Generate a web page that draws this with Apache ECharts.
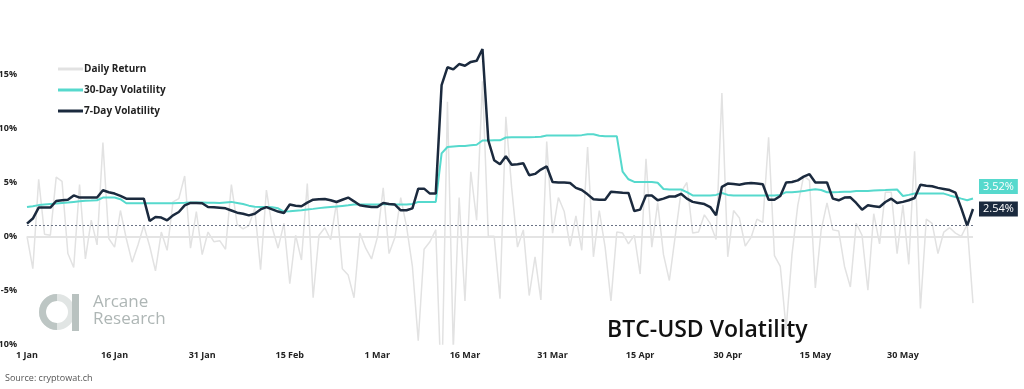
<!DOCTYPE html>
<html><head><meta charset="utf-8">
<script src="https://cdn.jsdelivr.net/npm/echarts@6/dist/echarts.min.js"></script>
<style>html,body{margin:0;padding:0;background:#fff}#c{width:1024px;height:389px}</style>
</head><body><div id="c"></div>
<script>
// Daily dates: 1 Jan 2020 .. 11 Jun 2020
const startDate = '2020-01-01';
const dayCount = 163;
const monthNames = ['Jan','Feb','Mar','Apr','May','Jun','Jul','Aug','Sep','Oct','Nov','Dec'];
const yTicks = [-10, -5, 0, 5, 10, 15];

const dailyReturn = [0,-3.0,5.3,0.2,0.1,5.5,5.1,-1.6,-2.9,4.8,-2.1,1.5,-0.8,8.7,-0.2,-1.0,2.4,-0.2,-2.4,-0.8,
1.0,-0.9,-3.2,0.4,-1.3,3.2,3.5,5.6,-1.1,2.3,-1.7,0.4,-0.5,-0.4,-1.2,4.8,1.1,0.7,1.0,2.6,
-3.1,4.3,0.8,-1.1,1.2,-4.4,0.1,-2.2,4.9,-5.7,0.1,0.8,-0.3,3.1,-3.0,-3.6,-5.7,0.3,-1.1,-2.1,
-0.1,4.5,-1.6,-0.1,3.6,0.9,-2.8,-9.7,-1.2,-0.5,0.6,-15,12.5,-10.5,3.6,-6.0,6.0,1.5,14.4,0,
0,-5.8,11.1,4.5,-1.0,0.6,-5.5,-1.9,-5.9,8.8,0.3,3.6,2.3,-0.9,1.9,-1.3,8.3,-1.9,2.4,-1.0,
-6.0,0.4,0.3,-0.7,0.1,-3.5,7.2,-1.0,3.1,-1.7,-4.1,0,4.1,5.0,0.3,0.4,2.0,1.2,-0.3,13.3,
-1.9,2.4,1.7,-0.9,-0.1,1.6,1.3,9.2,-1.8,-2.8,-8.6,-1.7,2.9,5.6,5.2,-4.8,0.6,3.1,0.6,0.5,
-2.8,-4.7,1.2,0.1,-5.0,2.1,-0.7,4.1,4.1,-1.6,2.9,-2.6,7.9,-6.7,1.6,1.2,-1.6,0.4,0.8,0.3,
0,1.1,-6.2];

const vol30 = [2.72,2.8,2.9,2.95,3.0,3.05,3.1,3.15,3.2,3.25,3.3,3.32,3.35,3.6,3.6,3.6,3.45,3.07,3.07,3.07,
3.07,3.07,3.07,3.07,3.07,3.08,3.1,3.12,3.15,3.15,3.15,3.13,3.12,3.1,3.15,3.2,3.1,3.0,2.85,2.75,
2.72,2.72,2.7,2.6,2.3,2.32,2.38,2.42,2.5,2.55,2.62,2.68,2.72,2.76,2.82,2.88,2.95,2.96,2.96,2.96,
2.96,2.97,2.97,2.96,2.95,2.96,3.0,3.2,3.2,3.2,3.2,7.7,8.3,8.35,8.38,8.4,8.45,8.5,8.9,8.9,
8.92,8.92,9.18,9.2,9.2,9.2,9.2,9.22,9.25,9.37,9.37,9.37,9.37,9.37,9.37,9.4,9.49,9.49,9.35,9.3,
9.3,9.3,6.0,5.3,5.05,5.05,5.05,5.05,4.98,4.4,4.35,4.35,4.35,4.1,3.8,3.8,3.8,3.8,3.85,4.03,
3.85,3.8,3.8,3.8,3.8,3.8,3.8,3.8,3.8,3.85,4.1,4.1,4.15,4.2,4.3,4.37,4.3,4.1,4.1,4.12,
4.15,4.15,4.2,4.2,4.22,4.25,4.28,4.3,4.33,4.35,3.75,3.85,3.97,3.97,3.97,3.97,3.97,3.97,3.8,3.66,
3.5,3.35,3.52];

const vol7 = [1.18,1.65,2.67,2.67,2.67,3.28,3.35,3.4,3.8,3.6,3.6,3.6,3.6,4.28,4.1,3.97,3.75,3.5,3.5,3.5,
3.5,1.43,1.8,1.74,1.49,1.95,2.26,2.88,3.1,3.1,3.07,2.72,2.7,2.65,2.6,2.4,2.2,2.1,1.95,2.1,
2.5,2.72,2.5,2.3,2.17,2.95,2.85,2.79,3.13,3.4,3.45,3.47,3.35,3.19,3.4,3.6,3.25,2.88,2.8,2.72,
2.72,3.1,3.0,2.95,2.42,2.42,2.6,4.43,4.43,3.97,3.97,14.05,15.7,15.5,16.0,15.85,16.2,16.3,17.4,8.9,
7.07,6.7,7.44,6.65,6.7,6.78,5.67,5.8,6.2,6.5,5.05,5.0,5.0,4.96,4.5,4.3,3.9,3.45,3.4,3.4,
4.15,4.1,4.05,4.03,2.35,2.48,3.8,3.8,3.35,3.5,3.7,3.7,3.95,3.5,3.2,3.1,3.0,2.72,1.95,4.6,
4.9,4.85,4.8,4.9,4.96,4.9,4.84,3.4,3.4,3.75,5.0,5.05,5.2,5.55,5.77,5.0,5.0,5.0,3.5,3.35,
3.6,3.62,3.1,2.48,2.88,2.8,2.72,3.19,3.5,3.1,3.2,3.35,3.56,4.8,4.7,4.65,4.5,4.4,4.3,4.06,
2.6,1.0,2.54];

const categories = [];
(function(){
  const d0 = new Date(startDate + 'T00:00:00Z');
  for (let i = 0; i < dayCount; i++) {
    const d = new Date(d0.getTime() + i * 86400000);
    categories.push(d.getUTCDate() + ' ' + monthNames[d.getUTCMonth()]);
  }
})();

const TEAL = '#56d9cd';
const NAVY = '#1b2a3e';
const GRAY = '#e2e2e2';
const FONT = '"Open Sans", "Noto Sans", sans-serif';

const chart = echarts.init(document.getElementById('c'), null, {renderer: 'canvas'});
chart.setOption({
  backgroundColor: '#ffffff',
  animation: false,
  textStyle: {fontFamily: FONT},
  grid: {left: 27, right: 51, top: 21, bottom: 45, containLabel: false, outerBoundsMode: 'none'},
  legend: {
    orient: 'vertical', left: 53, top: 57, icon: 'rect', itemWidth: 25, itemHeight: 3, itemGap: 7,
    textStyle: {fontFamily: FONT, fontSize: 10, fontWeight: 'bold', color: '#222', padding: [0,0,0,-4], lineHeight: 14},
    data: ['Daily Return', '30-Day Volatility', '7-Day Volatility']
  },
  xAxis: {
    type: 'category', data: categories, boundaryGap: false,
    axisLine: {show: false, onZero: false}, axisTick: {show: false},
    axisLabel: {interval: 14, fontFamily: FONT, fontSize: 9, fontWeight: 'bold', color: '#222', margin: 7},
    splitLine: {show: false}
  },
  yAxis: {
    type: 'value', min: -10, max: 20, interval: 5,
    axisLine: {show: false}, axisTick: {show: false}, splitLine: {show: false},
    axisLabel: {showMaxLabel: false, formatter: v => yTicks.indexOf(v) >= 0 ? v + '%' : '', fontFamily: FONT, fontSize: 9, fontWeight: 'bold', color: '#222', margin: 10}
  },
  series: [
    {
      name: 'Daily Return', type: 'line', data: dailyReturn, showSymbol: false, clip: true,
      lineStyle: {color: GRAY, width: 1.5}, itemStyle: {color: GRAY}, z: 1,
      markLine: {
        silent: true, symbol: 'none', label: {show: false},
        data: [
          {yAxis: 0, lineStyle: {color: '#e4e4e4', width: 2, type: 'solid'}},
          {yAxis: 1, lineStyle: {color: '#6a7385', width: 1, type: [2, 2]}}
        ]
      }
    },
    {
      name: '30-Day Volatility', type: 'line', data: vol30, showSymbol: false,
      lineStyle: {color: TEAL, width: 2}, itemStyle: {color: TEAL}, z: 3,
      endLabel: {show: true, formatter: p => p.value.toFixed(2) + '%', backgroundColor: TEAL, color: '#fff',
        fontFamily: FONT, fontSize: 11, padding: [2, 4, 2, 4], distance: 6, offset: [0, -12]}
    },
    {
      name: '7-Day Volatility', type: 'line', data: vol7, showSymbol: false,
      lineStyle: {color: NAVY, width: 2.5}, itemStyle: {color: NAVY}, z: 4,
      endLabel: {show: true, formatter: p => p.value.toFixed(2) + '%', backgroundColor: NAVY, color: '#fff',
        fontFamily: FONT, fontSize: 11, padding: [2, 4, 2, 4], distance: 6, offset: [0, 0]}
    }
  ],
  graphic: [
    {type: 'text', left: 607, top: 319, style: {text: 'BTC-USD Volatility', font: '600 23px "Open Sans", sans-serif', fill: '#111'}},
    {type: 'text', left: 5, top: 374, style: {text: 'Source: cryptowat.ch', font: '9px "Open Sans", sans-serif', fill: '#555'}},
    {type: 'ring', shape: {cx: 57, cy: 312, r: 18, r0: 11}, style: {fill: '#e1e5e4'}},
    {type: 'sector', shape: {cx: 57, cy: 312, r: 18, r0: 11, startAngle: Math.PI / 2, endAngle: Math.PI * 1.5, clockwise: true}, style: {fill: '#bdc6c4'}},
    {type: 'rect', shape: {x: 72, y: 294, width: 7, height: 37}, style: {fill: '#b9c2c0'}},
    {type: 'text', left: 93, top: 294, style: {text: 'Arcane', font: '17px "Open Sans", sans-serif', fill: '#aeb6b5'}},
    {type: 'text', left: 93, top: 311, style: {text: 'Research', font: '17px "Open Sans", sans-serif', fill: '#aeb6b5'}}
  ]
});
</script>
</body></html>
